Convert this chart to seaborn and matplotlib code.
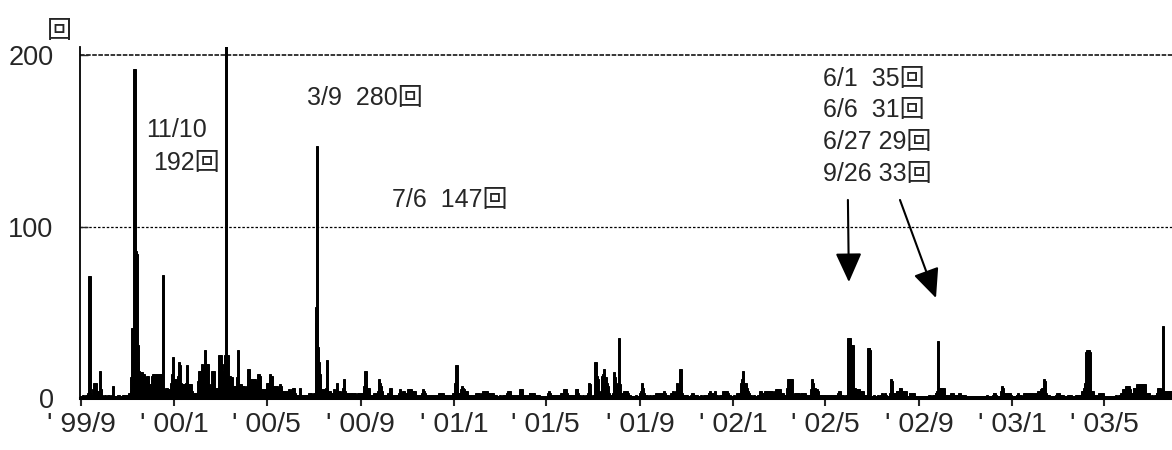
import pandas as pd
import seaborn as sns
import matplotlib.pyplot as plt

# daily counts, one list per month from '99/9 to '03/7
start = pd.Timestamp('1999-09-01')
months = pd.date_range('1999-09-01', '2003-07-01', freq='MS')
daily_counts = [
    [1,0,1,2,1,1,0,2,1,3,2,71,3,1,2,2,5,9,8,4,9,3,2,4,3,16,5,2,1,1],                     # 99/9
    [1,2,1,0,1,1,2,1,1,0,1,2,7,1,0,1,1,0,1,2,1,0,1,1,0,2,1,2,1,1,0],                     # 99/10
    [2,1,3,2,4,12,41,38,20,192,87,86,84,31,21,16,15,14,12,15,11,14,9,12,8,13,10,13,7,6], # 99/11
    [8,5,13,14,12,14,13,9,13,14,12,13,10,14,6,4,72,5,3,5,4,6,3,5,2,5,4,9,14,24,11],      # 99/12
    [11,9,11,6,10,13,21,19,9,8,6,8,7,8,5,8,9,19,8,7,8,6,8,4,3,2,3,1,3,2,3],              # 00/1
    [10,16,12,16,9,20,14,19,12,28,11,20,16,20,8,6,4,6,5,16,12,16,6,4,6,5,6,3,25],        # 00/2
    [24,25,20,16,12,16,22,25,280,24,25,13,10,13,9,12,7,5,7,4,6,7,12,28,6,8,5,8,6,7,5],   # 00/3
    [7,4,6,5,7,12,17,15,9,11,8,11,10,11,7,11,9,10,6,14,12,13,5,4,5,3,5,4,2,5],           # 00/4
    [9,7,9,8,14,10,13,6,7,5,7,6,4,7,5,6,3,8,5,7,4,3,4,2,4,3,4,2,3,5,4],                  # 00/5
    [4,3,5,6,4,6,3,2,1,2,1,2,6,2,1,2,2,1,2,2,1,2,2,1,3,2,2,3,2,2],                       # 00/6
    [2,3,2,44,53,147,30,21,14,10,5,4,3,5,3,4,2,6,22,4,3,2,4,3,1,2,3,5,4,2,3],            # 00/7
    [9,3,2,4,2,3,2,3,6,11,4,2,1,3,2,3,2,2,3,2,3,2,2,3,2,1,2,3,2,3,2],                    # 00/8
    [3,2,3,2,4,7,16,8,6,4,6,3,2,1,2,2,1,2,3,2,1,2,3,4,11,9,7,4,3,2],                     # 00/9
    [2,1,2,2,1,2,3,2,4,6,2,1,1,2,1,1,2,1,2,1,3,5,3,2,3,3,4,2,3,2,3],                     # 00/10
    [3,5,4,5,3,5,4,3,4,3,4,1,1,2,1,1,2,1,2,3,5,4,2,3,1,1,2,1,1,2],                       # 00/11
    [1,1,2,1,1,2,1,1,2,1,2,3,2,3,3,2,3,2,2,1,2,1,1,2,1,1,2,1,1,2,3],                     # 00/12
    [3,4,9,19,6,3,2,3,2,5,7,6,4,5,3,4,3,4,2,1,1,2,1,1,2,1,1,1,2,3,2],                    # 01/1
    [3,2,3,2,1,2,3,4,3,4,4,3,4,3,2,3,2,3,3,2,3,2,1,1,2,1,1,1],                           # 01/2
    [1,2,1,1,1,2,1,1,2,1,1,3,4,3,4,2,1,1,2,1,1,2,1,1,2,1,1,3,5,5,3],                     # 01/3
    [2,1,1,2,1,1,2,1,1,3,3,2,3,3,3,2,2,1,2,2,1,2,1,0,1,1,0,1,0,0],                       # 01/4
    [0,1,0,3,4,3,2,2,1,2,2,1,2,2,1,2,2,1,2,2,3,3,2,3,5,4,5,3,2,2,1],                     # 01/5
    [2,1,2,2,1,2,2,1,4,5,5,3,1,1,2,1,1,1,2,1,1,1,2,1,3,9,8,4,1,1],                       # 01/6
    [1,2,1,5,21,12,13,11,4,3,2,3,13,12,14,17,9,12,5,9,7,3,2,1,2,2,1,3,15,12,8],          # 01/7
    [8,6,3,9,35,8,3,3,2,3,3,4,3,4,4,3,1,1,2,1,1,1,0,1,1,1,2,1,1,1,1],                    # 01/8
    [2,3,4,9,6,3,2,1,1,2,1,1,1,2,1,1,1,2,1,2,2,3,2,2,3,2,2,3,2,2],                       # 01/9
    [3,3,4,3,2,1,1,2,1,1,1,3,3,4,3,2,1,2,4,9,8,4,5,17,7,3,2,2,1,2,2],                    # 01/10
    [2,1,0,1,0,1,2,2,3,2,2,2,1,1,2,1,1,1,1,2,1,1,1,2,1,1,2,1,2,3],                       # 01/11
    [3,4,3,3,2,3,3,4,1,1,2,1,1,1,2,1,1,2,4,3,4,4,3,4,3,1,1,2,1,1,1],                     # 01/12
    [1,2,1,1,1,3,3,2,3,2,4,9,11,16,8,9,7,9,6,4,3,1,1,2,1,1,1,2,1,1,1],                   # 02/1
    [1,1,2,1,4,4,2,2,3,2,3,4,3,4,4,3,4,4,3,4,2,3,2,1,4,5,5,4],                           # 02/2
    [5,4,5,3,3,2,3,1,1,2,1,1,6,11,10,11,11,9,11,1,1,2,3,3,2,3,3,1,2,1,3],                # 02/3
    [3,3,2,3,3,2,1,1,2,1,1,2,5,11,9,4,5,6,4,5,3,4,2,2,1,2,2,1,2,2],                      # 02/4
    [1,1,2,1,1,1,2,1,1,1,2,1,1,1,2,1,1,3,3,4,3,2,1,1,2,1,1,1,2,1,32],                    # 02/5
    [35,35,33,31,30,31,6,5,6,5,4,5,5,4,5,4,4,3,4,3,2,2,1,2,2,1,29,29,28,1],              # 02/6
    [1,1,1,2,1,1,1,1,2,1,1,1,2,2,3,2,2,2,3,2,0,0,1,0,3,11,10,3,3,2,3],                   # 02/7
    [3,3,4,4,3,4,6,6,5,4,4,3,4,3,4,1,1,0,1,3,3,2,3,3,2,3,1,1,0,1,1],                     # 02/8
    [1,0,1,1,0,1,1,0,1,1,0,1,1,1,2,1,1,1,2,1,1,2,3,3,4,33,6,5,6,6],                      # 02/9
    [6,5,6,4,2,2,1,2,2,1,2,2,3,2,2,3,2,2,1,2,2,1,2,3,2,2,1,2,2,1,2],                     # 02/10
    [1,1,1,0,1,1,1,0,1,1,1,1,0,1,1,1,1,0,1,1,0,1,1,1,0,1,1,1,2,1],                       # 02/11
    [1,1,0,1,1,1,2,3,3,2,1,1,0,1,1,1,1,4,7,6,3,2,3,2,3,3,2,2,3,2,1],                     # 02/12
    [1,1,0,1,1,1,2,2,3,2,2,2,1,1,0,1,3,3,2,3,2,1,3,2,3,3,1,2,3,2,2],                     # 03/1
    [3,2,3,4,3,4,3,5,6,4,6,11,10,3,2,2,1,2,1,1,0,1,1,1,0,1,2,1],                         # 03/2
    [3,2,3,2,2,2,1,2,1,1,0,1,1,1,2,2,1,2,2,1,1,0,1,1,1,2,2,1,2,2,2],                     # 03/3
    [2,3,4,4,6,8,9,27,28,28,28,27,8,4,4,3,4,1,1,2,1,1,1,2,3,2,3,3,2,3],                  # 03/4
    [0,0,1,0,0,0,1,0,0,0,1,0,0,1,1,1,2,1,1,1,2,2,3,2,2,5,4,5,5,7,7],                     # 03/5
    [7,6,7,5,3,3,2,3,6,6,5,6,3,8,7,8,8,7,8,8,7,8,8,3,3,2,3,2,3,1],                       # 03/6
    [1,1,2,1,1,1,2,1,3,3,6,5,6,5,2,3,42,4,3,3,4,3,4,4,3,4,4,3,4,3,4],                    # 03/7
]

tick_months = ['1999-09-01', '2000-01-01', '2000-05-01', '2000-09-01', '2001-01-01', '2001-05-01',
               '2001-09-01', '2002-01-01', '2002-05-01', '2002-09-01', '2003-01-01', '2003-05-01']
tick_labels = ["' 99/9", "' 00/1", "' 00/5", "' 00/9", "' 01/1", "' 01/5",
               "' 01/9", "' 02/1", "' 02/5", "' 02/9", "' 03/1", "' 03/5"]

# build a long table: day offset from start -> count
rows = []
for m, vals in zip(months, daily_counts):
    for i, v in enumerate(vals):
        rows.append(((m - start).days + i, v))
df = pd.DataFrame(rows, columns=['day', 'count'])

sns.set_style('white')
plt.rcParams['font.family'] = ['Liberation Sans', 'Noto Sans CJK JP']

fig = plt.figure(figsize=(11.72, 4.5), dpi=100)
ax = fig.add_axes([80 / 1172, 52 / 450, 1092 / 1172, 351 / 450])

sns.barplot(data=df, x='day', y='count', native_scale=True, color='black', saturation=1,
            width=3.0, linewidth=0.7, edgecolor='black', errorbar=None, ax=ax)

# dashed guide lines at 100 and 200
ax.axhline(100, color='black', lw=0.9, ls=(0, (2, 1.5)), zorder=0.5)
ax.axhline(200, color='black', lw=1.1, ls=(0, (3, 1)), zorder=0.5)

ax.set_xlim(-1.3, 1427)
ax.set_ylim(0, 204.7)

tick_pos = [(pd.Timestamp(t) - start).days for t in tick_months]
ax.set_xticks(tick_pos)
ax.set_xticklabels(tick_labels)
ax.set_yticks([0, 100, 200])
ax.set_yticklabels(['0', '100', '200'])
ax.set_xlabel('')
ax.set_ylabel('')

ax.tick_params(axis='y', direction='in', length=6, width=1, pad=19, labelsize=19.5, left=True)
ax.tick_params(axis='x', direction='out', length=6, width=1.5, pad=4, labelsize=20.5, bottom=True)

for s in ('top', 'right'):
    ax.spines[s].set_visible(False)
ax.spines['left'].set_color('black')
ax.spines['left'].set_linewidth(1.3)
ax.spines['bottom'].set_color('black')
ax.spines['bottom'].set_linewidth(2.2)

# annotations
fs = 18
ax.text(85, 152, '11/10', fontsize=fs, va='baseline')
ax.text(94, 133, '192回', fontsize=fs, va='baseline')
ax.text(296, 171, '3/9  280回', fontsize=fs, va='baseline')
ax.text(407, 111.5, '7/6  147回', fontsize=fs, va='baseline')
ax.text(970, 182, '6/1  35回', fontsize=fs, va='baseline')
ax.text(970, 163.6, '6/6  31回', fontsize=fs, va='baseline')
ax.text(970, 145.2, '6/27 29回', fontsize=fs, va='baseline')
ax.text(970, 126.5, '9/26 33回', fontsize=fs, va='baseline')

arrow = dict(arrowstyle='-|>,head_length=1.0,head_width=0.45', mutation_scale=18,
             color='black', lw=1.5, shrinkA=0, shrinkB=0)
ax.annotate('', xy=(1004.4, 67.6), xytext=(1003.1, 115.5), arrowprops=arrow)
ax.annotate('', xy=(1118.3, 58.3), xytext=(1071.2, 115.5), arrowprops=arrow)

fig.text(59 / 1172, 1 - 31 / 450, '回', fontsize=fs, ha='center', va='center')

fig.savefig('out.png', dpi=100)
